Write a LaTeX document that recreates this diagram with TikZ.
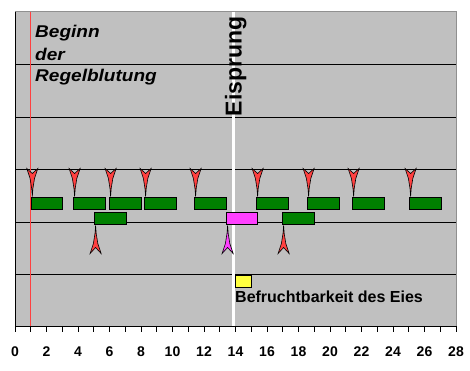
\documentclass[tikz,border=0pt]{standalone}
\usepackage{fontspec}
\setmainfont{Liberation Sans}
\newfontfamily\widefont[FakeStretch=1.12]{Liberation Sans}
\definecolor{bggray}{HTML}{C0C0C0}
\definecolor{edgegray}{HTML}{909090}
\definecolor{spikered}{HTML}{FF4040}
\definecolor{boxgreen}{HTML}{008000}
\definecolor{boxmag}{HTML}{FF40FF}
\definecolor{boxyellow}{HTML}{FFFF40}
\begin{document}
\begin{tikzpicture}[x=1pt,y=-1pt,
  gridline/.style={black,line width=0.9pt},
  boxbase/.style={draw=black,line width=0.9pt,minimum height=12pt,inner sep=0pt,anchor=north west},
  gbox/.style={boxbase,fill=boxgreen,minimum width=31.4pt},
  mbox/.style={boxbase,fill=boxmag,minimum width=31pt},
  ybox/.style={boxbase,fill=boxyellow,minimum width=16.3pt},
  ticklabel/.style={font=\fontsize{14}{14}\selectfont\bfseries,inner sep=0pt,anchor=base},
  bigtext/.style={font=\fontsize{16}{16}\selectfont\bfseries,inner sep=0pt,anchor=base west},
  italtext/.style={font=\widefont\fontsize{17}{17}\selectfont\bfseries\itshape,inner sep=0pt,anchor=base west},
  downspike/.pic={\filldraw[fill=spikered,draw=black,line width=0.6pt]
    (-5.5,0) -- (0,5) -- (5.5,0) -- (2.2,10) -- (0.6,20) -- (0,28) -- (-0.6,20) -- (-2.2,10) -- cycle;},
  upspikered/.pic={\filldraw[fill=spikered,draw=black,line width=0.6pt]
    (0,0) -- (0.6,8) -- (2.2,18) -- (5.5,28) -- (0,22) -- (-5.5,28) -- (-2.2,18) -- (-0.6,8) -- cycle;},
  upspikemag/.pic={\filldraw[fill=boxmag,draw=black,line width=0.6pt]
    (0,0) -- (0.6,8) -- (2.2,18) -- (5.5,28) -- (0,22) -- (-5.5,28) -- (-2.2,18) -- (-0.6,8) -- cycle;}
]
\useasboundingbox (0,0) rectangle (470,370);
% plot area
\fill[bggray] (15,11.5) rectangle (456,326);
\draw[edgegray,line width=0.9pt] (15,11.5) -- (456,11.5) -- (456,326);
\foreach \y in {64.5,117,169.5,222,274.5}
  \draw[gridline] (15,\y) -- (456,\y);
% vertical markers
\draw[spikered,line width=0.9pt] (30.75,11.5) -- (30.75,326);
\draw[white,line width=3pt] (233,11.5) -- (233,326);
% axes
\draw[black,line width=0.9pt] (15,11.5) -- (15,326) -- (456,326);
\foreach \d in {0,...,28}
  \draw[black,line width=0.9pt] ({15+15.75*\d},326) -- ({15+15.75*\d},332);
\foreach \d in {0,2,...,28}
  \node[ticklabel] (t\d) at ({15+15.75*\d},356.3) {\d};
% texts
\node[italtext] (beg1) at (35,37.7) {Beginn};
\node[italtext] (beg2) at (35,60) {der};
\node[italtext] (beg3) at (35,81.7) {Regelblutung};
\node[rotate=90,anchor=base west,inner sep=0pt,font=\fontsize{23}{23}\selectfont\bfseries] (eis) at (241.5,116.5) {Eisprung};
% upper row
\foreach \x [count=\i] in {31,73.3,109.3,144.3,194.3,256.3,307.3,352.3,409.3} {
  \pic (ua\i) at ({\x+1.3},168.5) {downspike};
  \node[gbox] (ub\i) at (\x,197.3) {};
}
% lower row
\node[gbox] (lb1) at (94.3,212.3) {};
\node[mbox] (lm) at (226.3,212.3) {};
\node[gbox] (lb2) at (282.3,212.3) {};
\pic (la1) at (95.6,225.5) {upspikered};
\pic (lam) at (227.6,225.5) {upspikemag};
\pic (la2) at (283.6,225.5) {upspikered};
% fertility
\node[ybox] (fert) at (235,275.3) {};
\node[bigtext] (fertlabel) at (235,302.3) {Befruchtbarkeit des Eies};
\end{tikzpicture}
\end{document}
